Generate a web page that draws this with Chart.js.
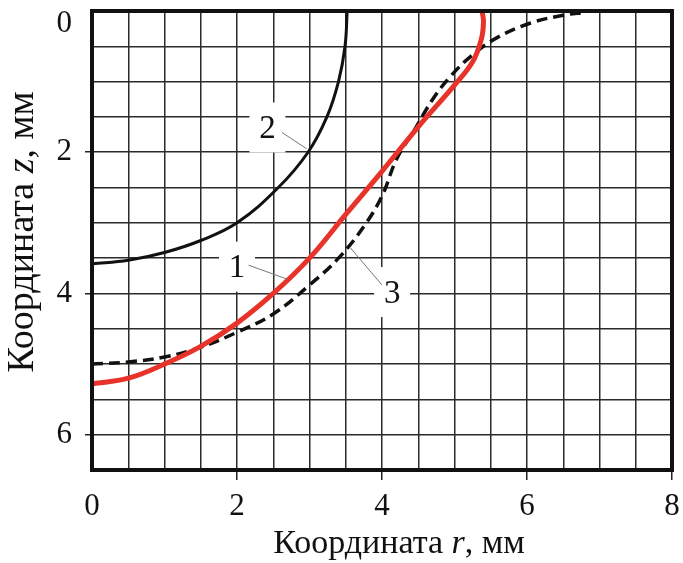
<!DOCTYPE html>
<html>
<head>
<meta charset="utf-8">
<script src="https://cdn.jsdelivr.net/npm/chart.js@4.4.1/dist/chart.umd.min.js"></script>
<style>
  html, body { margin: 0; padding: 0; background: #fff; }
  #wrap { width: 683px; height: 563px; position: relative; }
</style>
</head>
<body>
<div id="wrap"><canvas id="profile-chart"></canvas></div>
<script>
// Curve 1 (red), curve 2 (solid black), curve 3 (dashed) as r, z pairs, mm
const curve1R = [0, 0.5, 1.0, 1.5, 2.0, 2.5, 3.0, 3.5, 4.0, 4.5, 5.0, 5.25, 5.37, 5.4, 5.38];
const curve1Z = [5.28, 5.2, 5.0, 4.75, 4.42, 4.0, 3.5, 2.88, 2.27, 1.64, 1.05, 0.72, 0.4, 0.15, 0];

const curve2R = [3.52, 3.49, 3.4, 3.24, 2.98, 2.57, 2.0, 1.5, 1.0, 0.5, 0];
const curve2Z = [0, 0.5, 1.0, 1.5, 2.0, 2.5, 3.0, 3.25, 3.42, 3.53, 3.58];

const curve3R = [0, 0.5, 1.0, 1.5, 2.0, 2.5, 3.0, 3.4, 3.75, 4.0, 4.2, 4.45, 4.7, 4.95, 5.25, 5.6, 6.05, 6.5, 6.8];
const curve3Z = [5.0, 4.97, 4.9, 4.76, 4.55, 4.29, 3.88, 3.5, 3.05, 2.62, 2.1, 1.68, 1.25, 0.92, 0.62, 0.37, 0.17, 0.06, 0.02];

const rTickLabels = [0, 2, 4, 6, 8];
const zTickLabels = [0, 2, 4, 6];

// curve numbers with leader lines, in data units
const callouts = [
  { text: '2', r: 2.42, z: 1.65, from: [2.62, 1.72], to: [2.96, 1.95] },
  { text: '1', r: 2.0, z: 3.62, from: [2.16, 3.6], to: [2.7, 3.8] },
  { text: '3', r: 4.14, z: 3.98, from: [4.0, 3.88], to: [3.56, 3.35] }
];

const SERIF = "'Liberation Serif', 'DejaVu Serif', serif";

function pairs(rs, zs) {
  return rs.map((r, i) => ({ x: r, y: zs[i] }));
}

const isMajor = (ctx) => ctx.tick && ctx.tick.value !== 0 && ctx.tick.value % 2 === 0;

const decorPlugin = {
  id: 'decor',
  beforeDatasetsDraw(chart) {
    const { ctx, scales } = chart;
    ctx.save();
    ctx.fillStyle = '#fff';
    callouts.forEach(c => {
      const x = scales.x.getPixelForValue(c.r);
      const y = scales.y.getPixelForValue(c.z);
      ctx.fillRect(x - 18, y - 25, 36, 50);
    });
    ctx.restore();
  },
  afterDatasetsDraw(chart) {
    const { ctx, scales } = chart;
    ctx.save();
    ctx.strokeStyle = '#777';
    ctx.lineWidth = 1;
    ctx.fillStyle = '#111';
    ctx.font = '33px ' + SERIF;
    ctx.textAlign = 'center';
    ctx.textBaseline = 'middle';
    callouts.forEach(c => {
      ctx.beginPath();
      ctx.moveTo(scales.x.getPixelForValue(c.from[0]), scales.y.getPixelForValue(c.from[1]));
      ctx.lineTo(scales.x.getPixelForValue(c.to[0]), scales.y.getPixelForValue(c.to[1]));
      ctx.stroke();
      ctx.fillText(c.text, scales.x.getPixelForValue(c.r), scales.y.getPixelForValue(c.z) + 2);
    });
    ctx.restore();
  },
  afterDraw(chart) {
    const { ctx, chartArea: a } = chart;
    ctx.save();
    ctx.strokeStyle = '#111';
    ctx.lineWidth = 4;
    ctx.strokeRect(a.left, a.top, a.right - a.left, a.bottom - a.top);

    // axis titles with italic variable
    function title(parts, size) {
      let w = 0;
      parts.forEach(p => { ctx.font = (p.it ? 'italic ' : '') + size + 'px ' + SERIF; w += ctx.measureText(p.t).width; });
      let x = -w / 2;
      parts.forEach(p => {
        ctx.font = (p.it ? 'italic ' : '') + size + 'px ' + SERIF;
        ctx.fillText(p.t, x, 0);
        x += ctx.measureText(p.t).width;
      });
    }
    ctx.fillStyle = '#111';
    ctx.textAlign = 'left';
    ctx.textBaseline = 'alphabetic';
    ctx.save();
    ctx.translate(399, 553);
    title([{ t: 'Координата ' }, { t: 'r', it: true }, { t: ', мм' }], 34);
    ctx.restore();
    ctx.save();
    ctx.translate(33, 232);
    ctx.rotate(-Math.PI / 2);
    title([{ t: 'Координата ' }, { t: 'z', it: true }, { t: ', мм' }], 38);
    ctx.restore();
    ctx.restore();
  }
};

const ctx = document.getElementById('profile-chart').getContext('2d');
new Chart(ctx, {
  type: 'scatter',
  data: {
    datasets: [
      {
        label: '1',
        data: pairs(curve1R, curve1Z),
        showLine: true,
        borderColor: '#e8332b',
        borderWidth: 5,
        pointRadius: 0,
        tension: 0.4
      },
      {
        label: '2',
        data: pairs(curve2R, curve2Z),
        showLine: true,
        borderColor: '#111',
        borderWidth: 3,
        pointRadius: 0,
        tension: 0.4
      },
      {
        label: '3',
        data: pairs(curve3R, curve3Z),
        showLine: true,
        borderColor: '#111',
        borderWidth: 3.5,
        borderDash: [11, 6],
        pointRadius: 0,
        tension: 0.4
      }
    ]
  },
  options: {
    responsive: true,
    maintainAspectRatio: false,
    animation: false,
    layout: { padding: { left: 0, top: 11, right: 11, bottom: 0 } },
    plugins: { legend: { display: false }, tooltip: { enabled: false } },
    scales: {
      x: {
        type: 'linear',
        min: 0,
        max: 8,
        border: { display: false },
        grid: { color: '#2b2b2b', lineWidth: 1.5, tickLength: 10, tickColor: (c) => isMajor(c) ? '#222' : 'rgba(0,0,0,0)', tickWidth: 1.5 },
        ticks: {
          stepSize: 0.5,
          autoSkip: false,
          maxRotation: 0,
          padding: 8,
          color: '#111',
          font: { family: SERIF, size: 31 },
          callback: (v) => rTickLabels.includes(v) ? String(v) : ''
        },
        afterFit: (s) => { s.height = 93; s.paddingLeft = 0; s.paddingRight = 0; }
      },
      y: {
        type: 'linear',
        min: 0,
        max: 6.5,
        reverse: true,
        border: { display: false },
        grid: { color: '#2b2b2b', lineWidth: 1.5, tickLength: 7, tickColor: (c) => isMajor(c) ? '#222' : 'rgba(0,0,0,0)', tickWidth: 1.5 },
        ticks: {
          stepSize: 0.5,
          autoSkip: false,
          padding: 13,
          color: '#111',
          font: { family: SERIF, size: 31, lineHeight: 0.8 },
          callback: (v) => v === 0 ? ['', '0'] : (zTickLabels.includes(v) ? String(v) : '')
        },
        afterFit: (s) => { s.width = 92; s.paddingTop = 0; s.paddingBottom = 0; }
      }
    }
  },
  plugins: [decorPlugin]
});
</script>
</body>
</html>
